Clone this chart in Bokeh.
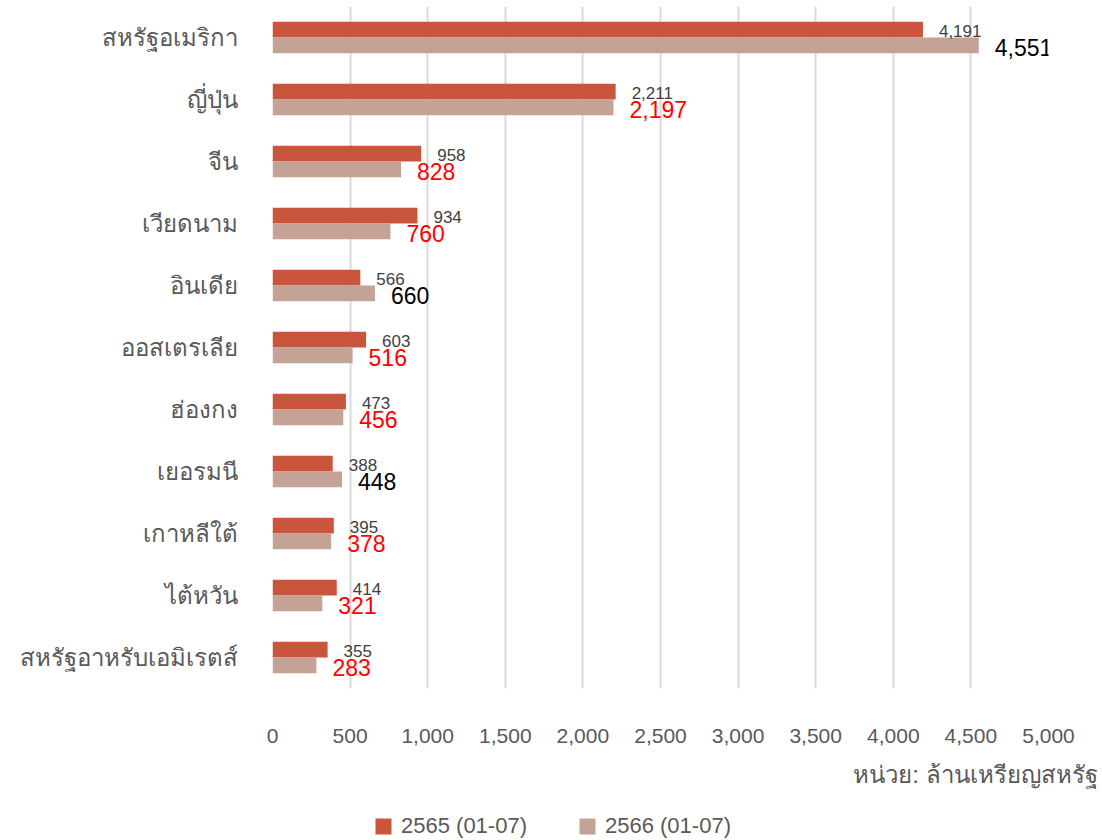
from bokeh.plotting import figure
from bokeh.layouts import column
from bokeh.models import (ColumnDataSource, Range1d, FixedTicker, Legend, LegendItem,
                          Title, NumeralTickFormatter)
from bokeh.core.properties import value
from bokeh.embed import file_html
from bokeh.resources import INLINE

countries = ["สหรัฐอเมริกา", "ญี่ปุ่น", "จีน", "เวียดนาม", "อินเดีย", "ออสเตรเลีย",
             "ฮ่องกง", "เยอรมนี", "เกาหลีใต้", "ไต้หวัน", "สหรัฐอาหรับเอมิเรตส์"]
v2565 = [4191, 2211, 958, 934, 566, 603, 473, 388, 395, 414, 355]
v2566 = [4551, 2197, 828, 760, 660, 516, 456, 448, 378, 321, 283]
series_names = ["2565 (01-07)", "2566 (01-07)"]
x_ticks = [0, 500, 1000, 1500, 2000, 2500, 3000, 3500, 4000, 4500, 5000]
unit_text = "หน่วย: ล้านเหรียญสหรัฐ"

C1 = "#C9553D"
C2 = "#C4A296"
FONT = "Liberation Sans"
GREY = "#595959"

n = len(countries)
pos = [n - 1 - i for i in range(n)]
bh = 0.256
lab_colors = ["#000000" if b > a else "#FF0000" for a, b in zip(v2565, v2566)]

src = ColumnDataSource(dict(
    pos=pos,
    y1=[p + bh / 2 for p in pos],
    y2=[p - bh / 2 for p in pos],
    v1=v2565, v2=v2566,
    t1=[f"{v:,}" for v in v2565],
    t2=[f"{v:,}" for v in v2566],
    c2=lab_colors,
))

p = figure(width=1100, height=800, output_backend="svg", toolbar_location=None,
           x_range=Range1d(0, 5000), y_range=Range1d(-0.5, n - 1 + 0.5),
           min_border_left=272, min_border_right=52, min_border_top=6,
           min_border_bottom=108)
p.outline_line_color = None
p.background_fill_color = None
p.border_fill_color = "white"

r1 = p.hbar(y="y1", right="v1", left=0, height=bh, source=src, fill_color=C1, line_color=None)
r2 = p.hbar(y="y2", right="v2", left=0, height=bh, source=src, fill_color=C2, line_color=None)

p.text(x="v1", y="y1", text="t1", source=src, x_offset=16, y_offset=1, text_align="left",
       text_baseline="middle", text_font=value(FONT), text_font_size="17px",
       text_color="#404040")
p.text(x="v2", y="y2", text="t2", source=src, x_offset=16, y_offset=2, text_align="left",
       text_baseline="middle", text_font=value(FONT), text_font_size="23px",
       text_color="c2")

# axes
p.xaxis.ticker = FixedTicker(ticks=x_ticks)
p.xaxis.formatter = NumeralTickFormatter(format="0,0")
p.xaxis.axis_line_color = None
p.xaxis.major_tick_line_color = None
p.xaxis.minor_tick_line_color = None
p.xaxis.major_label_standoff = 34
p.xaxis.major_label_text_font = FONT
p.xaxis.major_label_text_font_size = "21px"
p.xaxis.major_label_text_color = GREY

p.yaxis.ticker = FixedTicker(ticks=pos)
p.yaxis.major_label_overrides = {pp: c for pp, c in zip(pos, countries)}
p.yaxis.axis_line_color = None
p.yaxis.major_tick_line_color = None
p.yaxis.minor_tick_line_color = None
p.yaxis.major_label_standoff = 29
p.yaxis.major_label_text_font = FONT
p.yaxis.major_label_text_font_size = "24px"
p.yaxis.major_label_text_color = GREY

p.xgrid.ticker = FixedTicker(ticks=x_ticks)
p.xgrid.grid_line_color = "#D9D9D9"
p.xgrid.grid_line_width = 2
p.ygrid.grid_line_color = None

unit = Title(text=unit_text, align="right", text_font=FONT, text_font_size="24px",
             text_color=GREY, text_font_style="normal", standoff=26, offset=-49)
p.add_layout(unit, "below")

# legend strip below the chart (proxy bars share the data but sit outside its view)
lg = figure(width=1100, height=40, output_backend="svg", toolbar_location=None,
            x_range=Range1d(0, 5000), y_range=Range1d(100, 140),
            x_axis_type=None, y_axis_type=None, min_border=0,
            min_border_left=272, min_border_right=52)
lg.outline_line_color = None
lg.grid.grid_line_color = None
lg.border_fill_color = "white"
lg.background_fill_color = None
k1 = lg.hbar(y="y1", right="v1", left=0, height=bh, source=src, fill_color=C1, line_color=None)
k2 = lg.hbar(y="y2", right="v2", left=0, height=bh, source=src, fill_color=C2, line_color=None)
legend = Legend(items=[LegendItem(label=series_names[0], renderers=[k1]),
                       LegendItem(label=series_names[1], renderers=[k2])],
                orientation="horizontal", location=(101, 1),
                label_text_font=FONT, label_text_font_size="22px",
                label_text_color=GREY, glyph_width=20, glyph_height=20,
                label_standoff=8, spacing=50, border_line_color=None,
                background_fill_alpha=0, padding=2, margin=0)
lg.add_layout(legend, "center")

layout = column(p, lg, spacing=0)
open("out.html", "w").write(file_html(layout, INLINE))
